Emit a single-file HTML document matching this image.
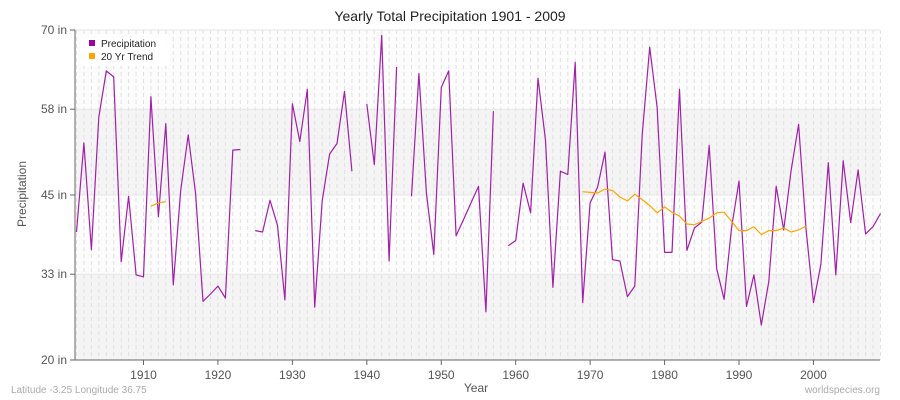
<!DOCTYPE html>
<html><head><meta charset="utf-8">
<style>
html,body{margin:0;padding:0;background:#fff;}
svg{display:block;font-family:"Liberation Sans",sans-serif;}
</style></head>
<body>
<svg id="chart" width="900" height="400" viewBox="0 0 900 400">
<text x="450" y="21" text-anchor="middle" font-size="14" fill="#222">Yearly Total Precipitation 1901 - 2009</text>
<g id="bands"></g>
<g id="grid"></g>
<g id="axes"></g>
<g id="series"></g>
<text x="476" y="392" text-anchor="middle" font-size="12" fill="#555">Year</text>
<text transform="translate(26,194) rotate(-90)" text-anchor="middle" font-size="12" fill="#555">Precipitation</text>
<text x="11" y="393" font-size="10" fill="#aaa">Latitude -3.25 Longitude 36.75</text>
<text x="880" y="393" text-anchor="end" font-size="10" fill="#aaa">worldspecies.org</text>
<g>
<rect x="80" y="34" width="90" height="32" rx="4" fill="#fff" opacity="0.9"/>
<rect x="89" y="40" width="6" height="6" fill="#990099"/>
<text x="101" y="47" font-size="10" fill="#222">Precipitation</text>
<rect x="89" y="53" width="6" height="6" fill="#ffa500"/>
<text x="101" y="60" font-size="10" fill="#222">20 Yr Trend</text>
</g>
</svg>
<script>
const startYear = 1901;
const precipitation = [39.4,52.9,36.7,56.8,63.8,62.9,34.9,44.8,32.9,32.6,
59.9,41.7,55.8,31.4,45.7,54.1,45.2,28.9,30.0,31.2,
29.4,51.8,51.9,null,39.6,39.4,44.2,40.4,29.1,58.8,
53.1,61.0,28.0,44.1,51.2,52.8,60.7,48.6,null,58.8,
49.6,69.2,35.0,64.4,null,44.8,63.4,45.3,36.0,61.3,
63.8,38.8,41.3,43.8,46.3,27.3,57.7,null,37.3,38.1,
46.8,42.3,62.7,53.3,31.0,48.6,48.1,65.1,28.7,43.8,
46.2,51.5,35.2,35.0,29.6,31.2,54.1,67.4,58.3,36.3,
36.3,61.0,36.6,40.0,40.9,52.5,33.8,29.2,40.1,47.1,
28.1,32.9,25.3,31.9,46.3,39.7,48.7,55.7,39.9,28.7,
34.5,49.9,32.9,50.2,40.8,48.8,39.1,40.2,42.2];
const trendYears1 = [1911,1912,1913];
const trendValues1 = [43.3,43.8,44.0];
const trendYears2 = [1969,1970,1971,1972,1973,1974,1975,1976,1977,1978,1979,1980,1981,1982,1983,1984,1985,1986,1987,1988,1989,1990,1991,1992,1993,1994,1995,1996,1997,1998,1999];
const trendValues2 = [45.5,45.4,45.3,45.9,45.7,44.7,44.1,45.1,44.3,43.4,42.3,43.2,42.4,41.8,40.6,40.5,41.0,41.5,42.3,42.4,41.0,39.6,39.6,40.2,39.0,39.6,39.6,40.0,39.4,39.7,40.3];
const yTicks = [20,33,45,58,70];
const yTickLabels = ["20 in","33 in","45 in","58 in","70 in"];
const xTicks = [1910,1920,1930,1940,1950,1960,1970,1980,1990,2000];

const NS="http://www.w3.org/2000/svg";
const L=75,R=880,T=30,B=360;
const xs=y=>L+1.5+(y-startYear)*7.444;
const ys=v=>B-(v-20)/50*(B-T);
function mk(tag,attrs,parent){const e=document.createElementNS(NS,tag);for(const k in attrs)e.setAttribute(k,attrs[k]);document.getElementById(parent).appendChild(e);return e;}

// bands
for(let i=0;i<yTicks.length-1;i++){
  const r=mk('rect',{x:L,y:ys(yTicks[i+1]),width:R-L,height:ys(yTicks[i])-ys(yTicks[i+1]),fill:i%2===0?'#f4f4f4':'#fcfcfc'},'bands');
  
  
}
// vertical grid
for(let y=startYear;y<startYear+precipitation.length;y++){
  const l=mk('line',{x1:xs(y),x2:xs(y),y1:T,y2:B,stroke:'#e0e0e0','stroke-width':1,'stroke-dasharray':'4,3'},'grid');
  
  
}
yTicks.forEach((v,i)=>{
  const l=mk('line',{x1:L,x2:R,y1:ys(v),y2:ys(v),stroke:'#e6e6e6','stroke-width':1},'grid');
  
  
  const t=mk('line',{x1:L-5,x2:L,y1:ys(v),y2:ys(v),stroke:'#666'},'axes');
  
  
  const tx=mk('text',{x:L-8,y:ys(v)+4,'text-anchor':'end','font-size':12,fill:'#555'},'axes');
  tx.textContent=yTickLabels[i];
  
  
});
const ax=mk('line',{x1:L,x2:L,y1:T,y2:B,stroke:'#666'},'axes');


const bx=mk('line',{x1:L,x2:R,y1:B,y2:B,stroke:'#666'},'axes');


xTicks.forEach(y=>{
  const t=mk('line',{x1:xs(y),x2:xs(y),y1:B,y2:B+5,stroke:'#666'},'axes');
  
  
  const tx=mk('text',{x:xs(y),y:B+19,'text-anchor':'middle','font-size':12,fill:'#555'},'axes');
  tx.textContent=y;
  
  
});
// precipitation line with gaps
let d='',pen=false;
precipitation.forEach((v,i)=>{
  if(v===null){pen=false;return;}
  d+=(pen?'L':'M')+xs(startYear+i).toFixed(1)+','+ys(v).toFixed(1);pen=true;
});
const p=mk('path',{d:d,fill:'none',stroke:'#a020a8','stroke-width':1.2,'stroke-linejoin':'round'},'series');


function trend(years,vals){
  const dd=years.map((y,i)=>(i?'L':'M')+xs(y).toFixed(1)+','+ys(vals[i]).toFixed(1)).join('');
  const t=mk('path',{d:dd,fill:'none',stroke:'#ffa500','stroke-width':1.2},'series');
  
  
}
trend(trendYears1,trendValues1);
trend(trendYears2,trendValues2);
</script>
</body></html>
